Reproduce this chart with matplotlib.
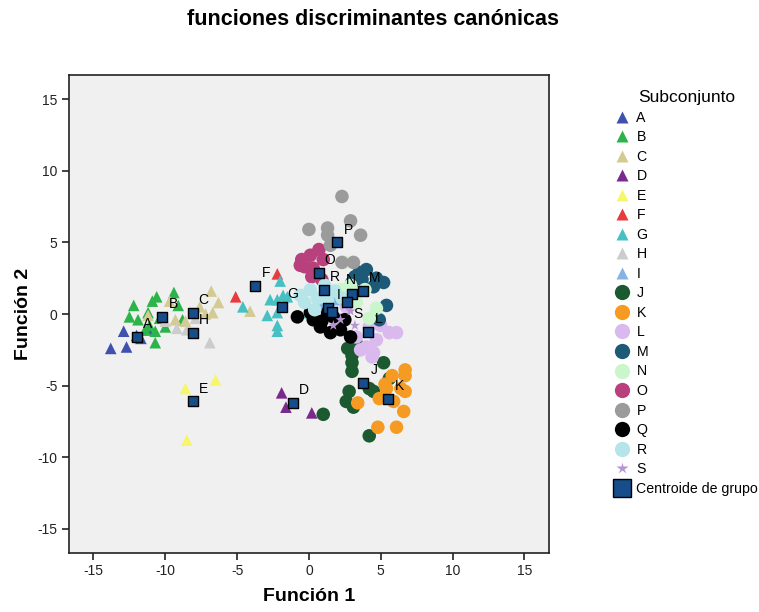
import matplotlib.pyplot as plt
from matplotlib.lines import Line2D

plt.rcParams['font.family'] = ['Liberation Sans', 'DejaVu Sans']
plt.rcParams['axes.unicode_minus'] = False

# scores per group (Función 1, Función 2)
A_x = [-13.8, -12.7, -12.9, -11.7, -11.2, -12.0]
A_y = [-2.4, -2.3, -1.2, -1.7, -1.1, -1.5]
B_x = [-12.2, -12.5, -11.9, -11.2, -10.9, -10.6, -9.4, -9.1, -10.4, -10.0, -10.7, -10.7, -8.8, -11.1, -11.4]
B_y = [0.6, -0.2, -0.4, 0.1, 0.9, 1.2, 1.5, 0.6, -0.3, -0.9, -1.2, -2.0, -0.4, -0.8, -1.1]
C_x = [-6.8, -6.3, -6.7, -7.2, -9.3, -8.6, -9.7, -4.1, -7.6, -11.2]
C_y = [1.6, 0.8, 0.1, 0.0, -0.4, -0.5, 0.9, 0.2, 0.5, -0.1]
D_x = [-1.9, -1.6, 0.2]
D_y = [-5.5, -6.5, -6.9]
E_x = [-8.6, -6.5, -8.5]
E_y = [-5.2, -4.6, -8.8]
F_x = [-2.2, -5.1]
F_y = [2.8, 1.2]
G_x = [-2.0, -1.8, -2.7, -2.2, -4.6, -2.9, -2.2, -2.2, -2.2, -0.1, -1.5]
G_y = [2.3, 1.3, 1.0, 1.0, 0.5, -0.1, 0.1, -0.8, -1.2, 0.1, 1.2]
H_x = [-9.2, -8.5, -6.9, -10.0, -7.9]
H_y = [-1.0, -1.1, -2.0, -0.5, -0.3]
I_x = [0.8, 1.5, 1.8]
I_y = [0.6, 0.3, 1.0]
J_x = [3.1, 2.7, 3.0, 3.0, 3.0, 5.2, 2.8, 2.6, 3.1, 4.2, 4.5, 5.6, 4.2, 1.0, 3.4]
J_y = [-2.3, -2.4, -2.9, -3.4, -4.0, -3.4, -5.4, -6.1, -6.5, -5.2, -5.4, -4.5, -8.5, -7.0, -2.2]
K_x = [6.7, 6.7, 5.8, 5.3, 5.4, 4.9, 5.9, 6.7, 6.6, 3.4, 4.8, 6.1, 6.4]
K_y = [-4.3, -3.9, -4.3, -4.9, -5.2, -5.9, -6.1, -5.4, -6.8, -6.2, -7.9, -7.9, -5.2]
L_x = [4.2, 4.7, 4.0, 5.6, 6.1, 3.3, 4.5, 2.6, 2.2, 4.4, 3.6, 5.0]
L_y = [-0.9, -1.8, -2.3, -1.3, -1.3, -1.6, -2.7, 0.5, -0.4, -3.0, -2.5, -0.8]
M_x = [3.5, 4.0, 3.2, 4.7, 5.2, 5.4, 4.9, 3.7, 4.5, 3.0]
M_y = [2.9, 3.1, 2.6, 2.5, 2.2, 0.6, -0.4, 2.4, 1.9, 2.2]
N_x = [3.2, 3.3, 4.7, 2.5, 3.9, 2.9, 4.2, 2.2]
N_y = [1.2, 0.8, 0.4, 3.6, 1.7, 2.0, -0.3, 1.7]
O_x = [0.7, 0.1, -0.5, -0.3, 0.3, 1.0, 0.2, 0.9, -0.6]
O_y = [4.5, 4.1, 3.8, 3.3, 3.2, 3.8, 2.6, 2.4, 3.4]
P_x = [2.3, 2.9, 0.0, 1.3, 1.3, 3.6, 3.1, 2.3, 1.5]
P_y = [8.2, 6.5, 5.9, 6.0, 5.5, 5.5, 3.6, 3.6, 4.8]
Q_x = [-0.8, 0.3, 0.8, 1.5, 2.2, 2.5, 1.7, 0.1, 1.3, 2.9, 0.9]
Q_y = [-0.2, -0.4, -0.9, -1.3, -1.1, -0.4, -0.2, 0.1, 0.1, -1.6, -0.5]
R_x = [0.1, 0.6, -0.3, 1.3, 0.4, 1.8, -0.6, 1.1, 2.3]
R_y = [1.7, 1.1, 0.8, 1.0, 0.3, 1.6, 1.3, 2.0, 1.1]
S_x = [2.2, 2.9, 1.7, 2.5, 3.2]
S_y = [-0.4, 0.2, -0.8, 0.6, -0.8]

groups = ['A', 'B', 'C', 'D', 'E', 'F', 'G', 'H', 'I', 'J',
          'K', 'L', 'M', 'N', 'O', 'P', 'Q', 'R', 'S']
cent_x = [-12.0, -10.2, -8.1, -1.1, -8.1, -3.75, -1.9, -8.1, 1.3, 3.75,
          5.5, 4.1, 3.8, 3.0, 0.7, 1.95, 1.6, 1.04, 2.64]
cent_y = [-1.6, -0.2, 0.1, -6.2, -6.1, 1.96, 0.5, -1.3, 0.43, -4.8,
          -5.9, -1.24, 1.62, 1.4, 2.87, 5.0, 0.15, 1.7, 0.85]

pts = {'A': (A_x, A_y), 'B': (B_x, B_y), 'C': (C_x, C_y), 'D': (D_x, D_y),
       'E': (E_x, E_y), 'F': (F_x, F_y), 'G': (G_x, G_y), 'H': (H_x, H_y),
       'I': (I_x, I_y), 'J': (J_x, J_y), 'K': (K_x, K_y), 'L': (L_x, L_y),
       'M': (M_x, M_y), 'N': (N_x, N_y), 'O': (O_x, O_y), 'P': (P_x, P_y),
       'Q': (Q_x, Q_y), 'R': (R_x, R_y), 'S': (S_x, S_y)}

colors = {'A': '#3d51ad', 'B': '#2cb34a', 'C': '#d3cb91', 'D': '#7a2a8c',
          'E': '#f6f66c', 'F': '#e83b3f', 'G': '#47c0c4', 'H': '#cccccc',
          'I': '#86b4e2', 'J': '#1b5a31', 'K': '#f59b23', 'L': '#d9b9ee',
          'M': '#1d5a78', 'N': '#cbf6cb', 'O': '#b7407d', 'P': '#9b9b9b',
          'Q': '#000000', 'R': '#b5e5e8', 'S': '#b596d2'}
markers = {g: '^' for g in 'ABCDEFGHI'}
markers.update({g: 'o' for g in 'JKLMNOPQR'})
markers['S'] = '*'
sizes = {'^': 70, 'o': 95, '*': 60}

# where the centroid letters sit (points), most are up-right of the square
label_off = {g: (8, 9) for g in groups}
label_off['N'] = (-1, 10)
label_off['S'] = (8, -9)
label_off['Q'] = (-8, -9)   # sits on the black dots, as in the original

fig = plt.figure(figsize=(7.59, 6.12), dpi=100)
ax = fig.add_axes([0.091, 0.097, 0.632, 0.781])
ax.set_facecolor('#f0f0f0')

for g in groups:
    x, y = pts[g]
    m = markers[g]
    ax.scatter(x, y, marker=m, s=sizes[m], c=colors[g], edgecolors='none', zorder=2)

ax.scatter(cent_x, cent_y, marker='s', s=50, c='#164d8a', edgecolors='black',
           linewidths=1, zorder=4)
for g, cx, cy in zip(groups, cent_x, cent_y):
    ax.annotate(g, (cx, cy), xytext=label_off[g], textcoords='offset points',
                ha='center', va='center', fontsize=10, zorder=5)

ax.set_xlim(-16.7, 16.7)
ax.set_ylim(-16.65, 16.7)
ax.set_xticks([-15, -10, -5, 0, 5, 10, 15])
ax.set_yticks([-15, -10, -5, 0, 5, 10, 15])
ax.tick_params(direction='out', length=5, width=1.2, labelsize=10, colors='#222222')
for sp in ax.spines.values():
    sp.set_linewidth(1.2)
    sp.set_color('#222222')

ax.set_xlabel('Función 1', fontsize=14, fontweight='bold', labelpad=7)
ax.set_ylabel('Función 2', fontsize=14, fontweight='bold', labelpad=4)
fig.text(0.492, 0.968, 'funciones discriminantes canónicas', fontsize=15.5,
         fontweight='bold', ha='center', va='center')

handles = []
for g in groups:
    m = markers[g]
    ms = {'^': 8, 'o': 11, '*': 9}[m]
    handles.append(Line2D([], [], linestyle='none', marker=m, markersize=ms,
                          markerfacecolor=colors[g], markeredgecolor='none'))
handles.append(Line2D([], [], linestyle='none', marker='s', markersize=13,
                      markerfacecolor='#164d8a', markeredgecolor='black'))
leg = fig.legend(handles, groups + ['Centroide de grupo'], loc='upper left',
                 bbox_to_anchor=(0.803, 0.862), frameon=False, fontsize=10.2,
                 title='Subconjunto', title_fontsize=12.5, handlelength=1.0,
                 handletextpad=0.5, labelspacing=0.39, borderaxespad=0)

fig.savefig('out.png', dpi=100)
